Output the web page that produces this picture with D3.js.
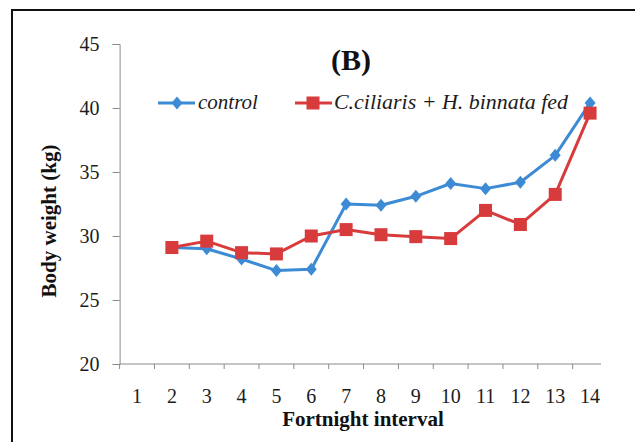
<!DOCTYPE html>
<html>
<head>
<meta charset="utf-8">
<script src="https://cdn.jsdelivr.net/npm/d3@7"></script>
<style>
  body { margin: 0; background: #fff; }
  svg { display: block; font-family: "Liberation Serif", "Times New Roman", serif; }
</style>
</head>
<body>
<svg id="chart" width="635" height="442"></svg>
<script>
"use strict";

var categories = ["1", "2", "3", "4", "5", "6", "7", "8", "9", "10", "11", "12", "13", "14"];
var yTicks = [20, 25, 30, 35, 40, 45];
var seriesNames = ["control", "C.ciliaris + H. binnata fed"];
// first fortnight has no value in either series
var controlValues = [null, 29.1, 29.0, 28.2, 27.3, 27.4, 32.5, 32.4, 33.1, 34.1, 33.7, 34.2, 36.3, 40.4];
var fedValues = [null, 29.1, 29.6, 28.7, 28.6, 30.0, 30.5, 30.1, 29.95, 29.8, 32.0, 30.9, 33.25, 39.6];

var BLUE = "#3d8bd4";
var RED = "#d83b3b";
var AXIS_GREY = "#8a8a8a";
var LINE_W = 3;

var svg = d3.select("#chart");

// outer frame, runs off the right and bottom edges like the scan
svg.append("rect")
  .attr("x", 12).attr("y", 10)
  .attr("width", 660).attr("height", 470)
  .attr("fill", "none")
  .attr("stroke", "#111")
  .attr("stroke-width", 2);

var x = d3.scaleBand().domain(categories).range([119.6, 607.5]).padding(0);
var y = d3.scaleLinear().domain([20, 45]).range([364, 44]);
var cx = function (d, i) { return x(categories[i]) + x.bandwidth() / 2; };

// y axis
var yAxis = svg.append("g")
  .attr("transform", "translate(" + x.range()[0] + ",0)")
  .call(d3.axisLeft(y).tickValues(yTicks).tickSize(7).tickPadding(13));
yAxis.selectAll("path, line").attr("stroke", AXIS_GREY);
yAxis.selectAll("text")
  .attr("font-size", 20)
  .attr("font-family", "Liberation Serif")
  .attr("fill", "#1c1c1c");

// x axis: labels from the band scale, ticks on the band boundaries
var xAxis = svg.append("g")
  .attr("transform", "translate(0," + y(20) + ")")
  .call(d3.axisBottom(x).tickSize(0).tickPadding(25));
xAxis.select(".domain").remove();
xAxis.selectAll("text")
  .attr("font-size", 20)
  .attr("font-family", "Liberation Serif")
  .attr("fill", "#1c1c1c");

var axisEnd = x.range()[1] - 6.5;
xAxis.append("line")
  .attr("x1", x.range()[0]).attr("x2", axisEnd)
  .attr("stroke", AXIS_GREY);
xAxis.selectAll("line.bound")
  .data(categories)
  .enter()
  .append("line")
  .attr("class", "bound")
  .attr("x1", function (d) { return x(d); })
  .attr("x2", function (d) { return x(d); })
  .attr("y1", 0).attr("y2", 5)
  .attr("stroke", AXIS_GREY);

// lines
var lineGen = d3.line()
  .defined(function (d) { return d !== null; })
  .x(cx)
  .y(function (d) { return y(d); });

svg.append("path")
  .datum(controlValues)
  .attr("d", lineGen)
  .attr("fill", "none")
  .attr("stroke", BLUE)
  .attr("stroke-width", LINE_W)
  .attr("stroke-linejoin", "round");

svg.append("path")
  .datum(fedValues)
  .attr("d", lineGen)
  .attr("fill", "none")
  .attr("stroke", RED)
  .attr("stroke-width", LINE_W)
  .attr("stroke-linejoin", "round");

// markers
var diamond = "M0,-6.5L5.5,0L0,6.5L-5.5,0Z";
var SQ = 13;

svg.append("g").selectAll("path")
  .data(controlValues)
  .enter()
  .filter(function (d) { return d !== null; })
  .append("path")
  .attr("d", diamond)
  .attr("fill", BLUE)
  .attr("transform", function (d) {
    var i = controlValues.indexOf(d);
    return "translate(" + cx(d, i) + "," + y(d) + ")";
  });

svg.append("g").selectAll("rect")
  .data(fedValues.map(function (v, i) { return { v: v, i: i }; }).filter(function (d) { return d.v !== null; }))
  .enter()
  .append("rect")
  .attr("x", function (d) { return cx(d.v, d.i) - SQ / 2; })
  .attr("y", function (d) { return y(d.v) - SQ / 2; })
  .attr("width", SQ).attr("height", SQ)
  .attr("fill", RED);

// legend
var legend = svg.append("g").attr("transform", "translate(0,103)");
legend.append("line").attr("x1", 158).attr("x2", 195).attr("stroke", BLUE).attr("stroke-width", LINE_W);
legend.append("path").attr("d", diamond).attr("transform", "translate(177,0)").attr("fill", BLUE);
legend.append("text").attr("x", 198).attr("y", 5.5)
  .attr("font-size", 21).attr("font-style", "italic").attr("fill", "#1c1c1c")
  .text(seriesNames[0]);
legend.append("line").attr("x1", 295).attr("x2", 332).attr("stroke", RED).attr("stroke-width", LINE_W);
legend.append("rect").attr("x", 313 - SQ / 2).attr("y", -SQ / 2).attr("width", SQ).attr("height", SQ).attr("fill", RED);
legend.append("text").attr("x", 334).attr("y", 5.5)
  .attr("font-size", 21).attr("font-style", "italic").attr("fill", "#1c1c1c")
  .attr("textLength", 234).attr("lengthAdjust", "spacingAndGlyphs")
  .text(seriesNames[1]);

// title and axis titles
svg.append("text")
  .attr("x", 351).attr("y", 70)
  .attr("text-anchor", "middle")
  .attr("font-size", 30).attr("font-weight", "bold").attr("fill", "#111")
  .text("(B)");

svg.append("text")
  .attr("x", 363).attr("y", 426)
  .attr("text-anchor", "middle")
  .attr("font-size", 21).attr("font-weight", "bold").attr("fill", "#111")
  .text("Fortnight interval");

svg.append("text")
  .attr("transform", "translate(56,221) rotate(-90)")
  .attr("text-anchor", "middle")
  .attr("font-size", 21).attr("font-weight", "bold").attr("fill", "#111")
  .text("Body weight (kg)");
</script>
</body>
</html>
